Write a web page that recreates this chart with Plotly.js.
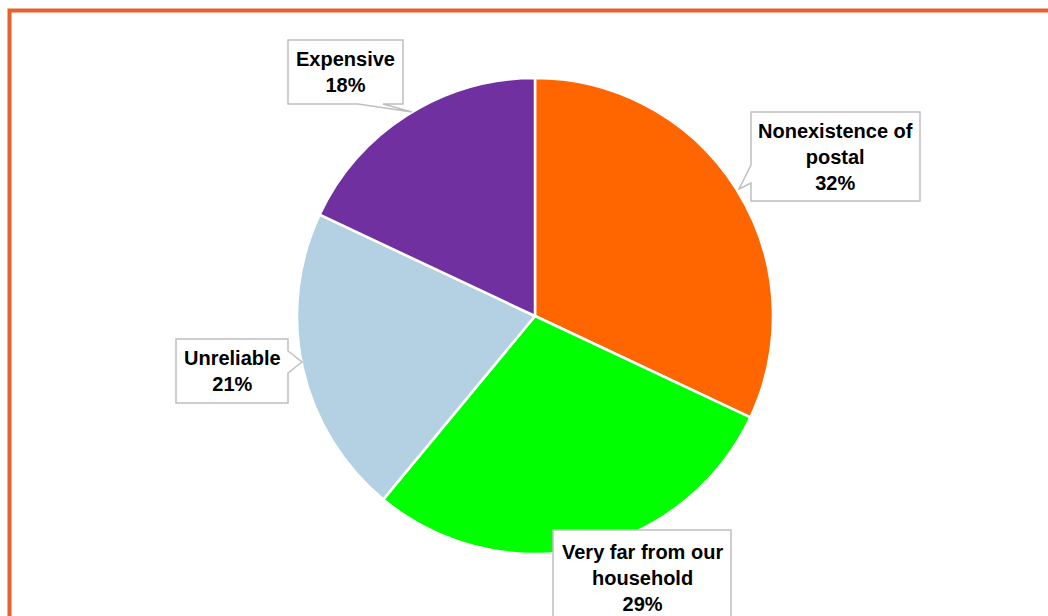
<!DOCTYPE html>
<html>
<head>
<meta charset="utf-8">
<script src="https://cdn.plot.ly/plotly-3.0.1.min.js"></script>
<style>html,body{margin:0;padding:0;background:#fff;}#chart{width:1048px;height:616px;}</style>
</head>
<body>
<div id="chart"></div>
<script>
const categories = ["Nonexistence of postal", "Very far from our household", "Unreliable", "Expensive"];
const labelLines = ["Nonexistence of<br>postal", "Very far from our<br>household", "Unreliable", "Expensive"];
const values = [32, 29, 21, 18];
const colors = ["#FF6600", "#00FF00", "#B4D1E3", "#7030A0"];

const W = 1048, H = 616;
const px = x => x / W;
const py = y => 1 - y / H;
function path(pts) {
  return "M" + pts.map(p => px(p[0]).toFixed(5) + "," + py(p[1]).toFixed(5)).join(" L") + " Z";
}
function openPath(pts) {
  return "M" + pts.map(p => px(p[0]).toFixed(5) + "," + py(p[1]).toFixed(5)).join(" L");
}

const total = values.reduce((a, b) => a + b, 0);

// callout geometry (pixels)
const callouts = [
  { box: [[751,112],[920,112],[920,201],[751,201],[751,183],[739,189],[751,165]], cx: 835, cy: 157 },
  { box: [[553,530],[731,530],[731,650],[553,650]], cx: 642, cy: 578 },
  { box: [[176,339],[288,339],[288,351],[302,362],[288,373],[288,403],[176,403]], cx: 232, cy: 371 },
  { box: [[288,40],[403,40],[403,104],[383,104],[412,112],[358,104],[288,104]], cx: 345, cy: 72 }
];

const shapes = callouts.map(c => ({
  type: "path", xref: "paper", yref: "paper", layer: "above",
  path: path(c.box), fillcolor: "#FFFFFF", line: { color: "#BFBFBF", width: 1.5 }
}));
shapes.push({
  type: "path", xref: "paper", yref: "paper", layer: "above",
  path: openPath([[9.5,640],[9.5,10.5],[1060,10.5]]),
  line: { color: "#E8602C", width: 4 }
});

const annotations = categories.map((c, i) => ({
  xref: "paper", yref: "paper", x: px(callouts[i].cx), y: py(callouts[i].cy),
  xanchor: "center", yanchor: "middle", showarrow: false, align: "center",
  text: "<b>" + labelLines[i] + "<br>" + Math.round(values[i] / total * 100) + "%</b>",
  font: { family: "Liberation Sans, Arial, sans-serif", size: 20, color: "#000000" }
}));

const cx = 535, cy = 316, r = 238;
const data = [{
  type: "pie",
  labels: categories,
  values: values,
  sort: false,
  direction: "clockwise",
  rotation: 0,
  textinfo: "none",
  hoverinfo: "label+percent",
  marker: { colors: colors, line: { color: "#FFFFFF", width: 2.5 } },
  domain: { x: [px(cx - r), px(cx + r)], y: [py(cy + r), py(cy - r)] }
}];

const layout = {
  width: W, height: H,
  margin: { l: 0, r: 0, t: 0, b: 0 },
  paper_bgcolor: "#FFFFFF",
  plot_bgcolor: "#FFFFFF",
  showlegend: false,
  shapes: shapes,
  annotations: annotations
};

Plotly.newPlot("chart", data, layout, { displayModeBar: false, staticPlot: true });
</script>
</body>
</html>
